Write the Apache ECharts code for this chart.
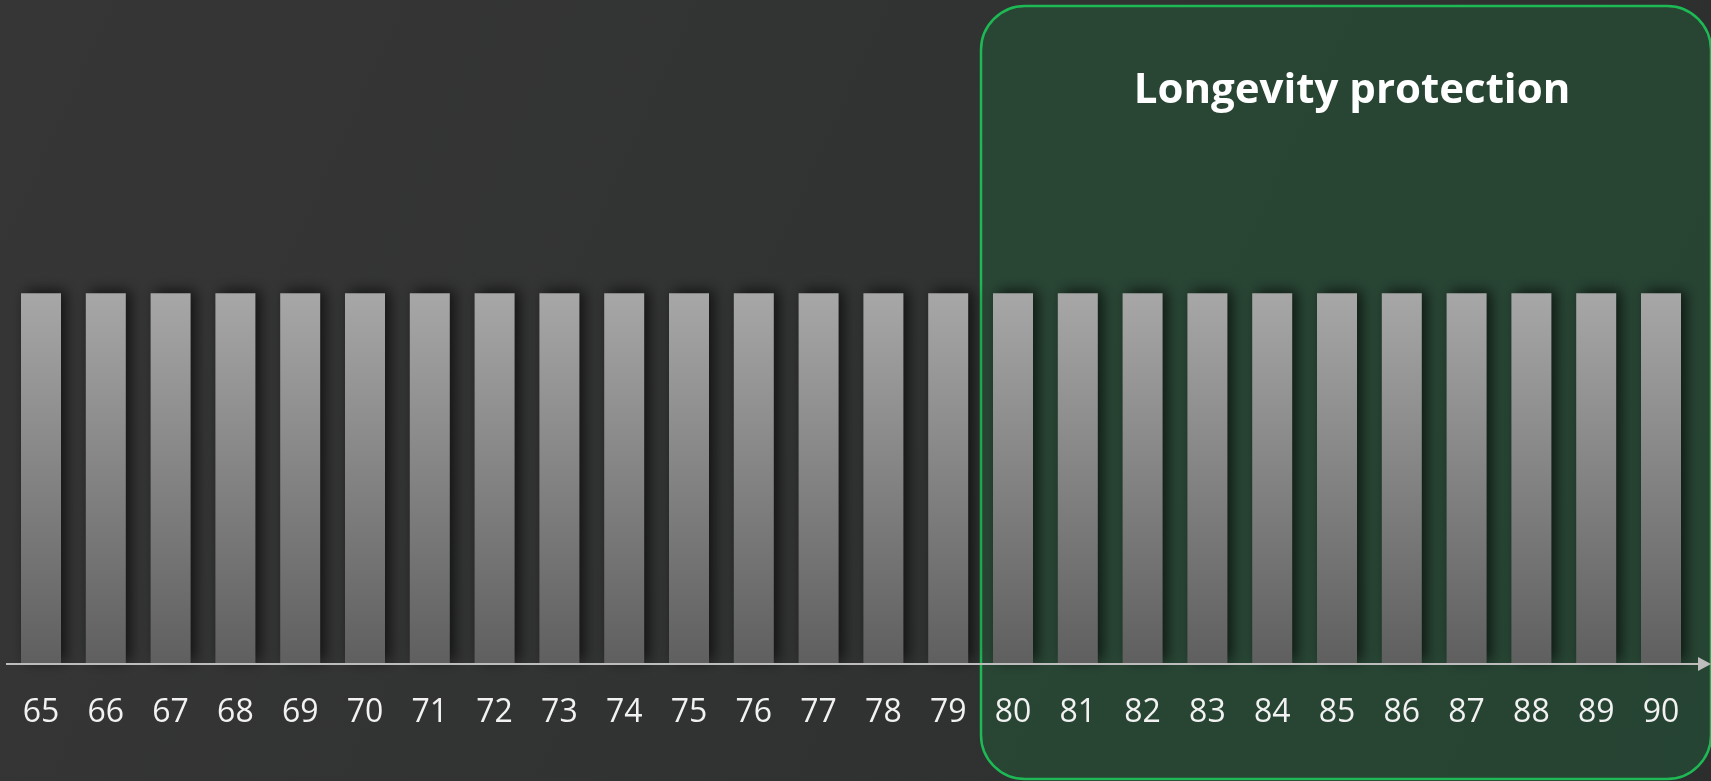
<!DOCTYPE html>
<html><head><meta charset="utf-8">
<script src="https://cdn.jsdelivr.net/npm/echarts@6/dist/echarts.min.js"></script>
<style>html,body{margin:0;padding:0;width:1711px;height:781px;overflow:hidden;}#c{width:1711px;height:781px;}</style>
</head><body><div id="c"></div>
<script>
const ages = ['65','66','67','68','69','70','71','72','73','74','75','76','77','78','79','80','81','82','83','84','85','86','87','88','89','90'];
const values = [60,60,60,60,60,60,60,60,60,60,60,60,60,60,60,60,60,60,60,60,60,60,60,60,60,60];
const boxTitle = 'Longevity protection';

const chart = echarts.init(document.getElementById('c'));
chart.setOption({
  backgroundColor: new echarts.graphic.LinearGradient(0,0,1,1,[{offset:0,color:'#363636'},{offset:1,color:'#2c2e2e'}]),
  animation:false,
  grid:{left:8.6,right:17.6,top:46,bottom:117,containLabel:false},
  graphic:[
    {type:'rect',z:-1,shape:{x:981,y:6,width:730,height:773,r:44},
     style:{fill:'rgba(30,110,60,0.35)',stroke:'#1db954',lineWidth:2.5}},
    {type:'text',z:10,style:{x:1352,y:91,text:boxTitle,fill:'#ffffff',font:'bold 42px "Open Sans"',align:'center',verticalAlign:'middle'}},
    {type:'line',shape:{x1:6,y1:664,x2:1700,y2:664},style:{stroke:'#bdbdbd',lineWidth:2},z:20},
    {type:'polygon',shape:{points:[[1698,657],[1711,664],[1698,671]]},style:{fill:'#bdbdbd'},z:20}
  ],
  xAxis:{type:'category',data:ages,
    axisLine:{show:false},axisTick:{show:false},
    axisLabel:{color:'#f2f2f2',fontSize:32,fontFamily:'Open Sans',margin:33}},
  yAxis:{type:'value',min:0,max:100,show:false,splitLine:{show:false}},
  series:[{type:'bar',data:values,barWidth:40,
    itemStyle:{color:new echarts.graphic.LinearGradient(0,0,0,1,[{offset:0,color:'#a7a7a7'},{offset:1,color:'#5f5f5f'}]),
      shadowBlur:14,shadowColor:'rgba(0,0,0,0.65)',shadowOffsetX:5,shadowOffsetY:-3}}]
});
</script></body></html>
